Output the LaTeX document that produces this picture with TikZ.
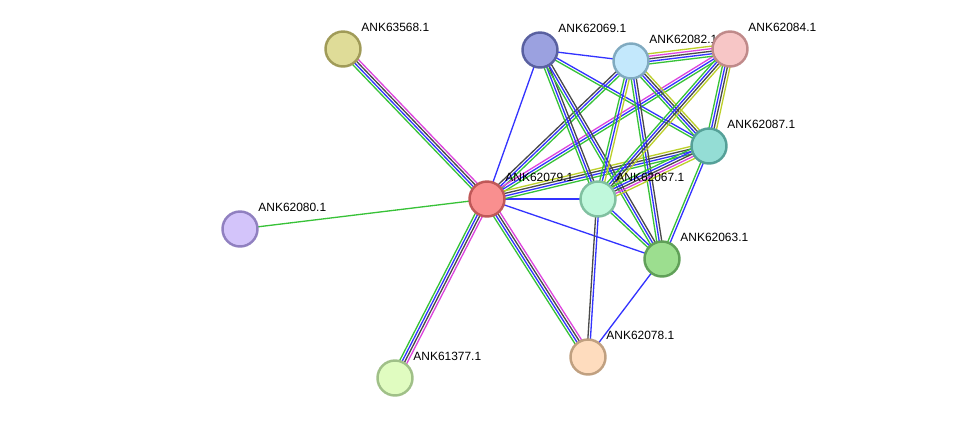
\documentclass[tikz,border=0pt]{standalone}
\usepackage{fontspec}
\setmainfont{Liberation Sans}
\usetikzlibrary{calc, backgrounds, positioning}

\definecolor{sgreen}{HTML}{38C238}
\definecolor{sblue}{HTML}{3333FF}
\definecolor{sblack}{HTML}{4A4A4A}
\definecolor{smagenta}{HTML}{DD44DD}
\definecolor{syellow}{HTML}{BCCF2A}

% parallel evidence lines between two proteins
\newcommand{\link}[3]{%
  \foreach \c [count=\i] in {#3} {\xdef\nlines{\i}}%
  \foreach \c [count=\i] in {#3} {%
    \pgfmathsetmacro{\off}{(\i-(\nlines+1)/2)*1.45}%
    \draw[edge, color=\c] ($(#1.center)!\off pt!90:(#2.center)$) -- ($(#2.center)!\off pt!-90:(#1.center)$);
  }}

\begin{document}
\begin{tikzpicture}[x=0.02cm, y=-0.02cm,
    prot/.style={circle, draw, line width=1.4pt, minimum size=0.7cm, inner sep=0pt},
    lbl/.style={font=\fontsize{6.8pt}{8pt}\selectfont, inner sep=0.5pt, xshift=0.08cm, yshift=0.06cm},
    edge/.style={line width=0.75pt}]
    \useasboundingbox (0,0) rectangle (975,424);

    % Proteine
    \node[prot, fill={rgb,255:red,223;green,220;blue,152}, draw={rgb,255:red,160;green,155;blue,88},
          label={[lbl]45:ANK63568.1}] (p63568) at (343,49) {};
    \node[prot, fill={rgb,255:red,155;green,161;blue,224}, draw={rgb,255:red,89;green,96;blue,160},
          label={[lbl]45:ANK62069.1}] (p62069) at (540,50) {};
    \node[prot, fill={rgb,255:red,195;green,232;blue,252}, draw={rgb,255:red,128;green,170;blue,192},
          label={[lbl]45:ANK62082.1}] (p62082) at (631,61) {};
    \node[prot, fill={rgb,255:red,247;green,198;blue,198}, draw={rgb,255:red,192;green,138;blue,138},
          label={[lbl]45:ANK62084.1}] (p62084) at (730,49) {};
    \node[prot, fill={rgb,255:red,148;green,221;blue,213}, draw={rgb,255:red,85;green,160;blue,152},
          label={[lbl]45:ANK62087.1}] (p62087) at (709,146) {};
    \node[prot, fill={rgb,255:red,249;green,143;blue,143}, draw={rgb,255:red,192;green,88;blue,88},
          label={[lbl]45:ANK62079.1}] (p62079) at (487,199) {};
    \node[prot, fill={rgb,255:red,192;green,248;blue,220}, draw={rgb,255:red,128;green,192;blue,160},
          label={[lbl]45:ANK62067.1}] (p62067) at (598,199) {};
    \node[prot, fill={rgb,255:red,211;green,196;blue,250}, draw={rgb,255:red,144;green,128;blue,192},
          label={[lbl]45:ANK62080.1}] (p62080) at (240,229) {};
    \node[prot, fill={rgb,255:red,156;green,222;blue,143}, draw={rgb,255:red,96;green,160;blue,88},
          label={[lbl]45:ANK62063.1}] (p62063) at (662,259) {};
    \node[prot, fill={rgb,255:red,254;green,220;blue,190}, draw={rgb,255:red,192;green,160;blue,128},
          label={[lbl]45:ANK62078.1}] (p62078) at (588,357) {};
    \node[prot, fill={rgb,255:red,224;green,252;blue,192}, draw={rgb,255:red,160;green,192;blue,136},
          label={[lbl]45:ANK61377.1}] (p61377) at (395,378) {};

    % Verbindungen
    \begin{scope}[on background layer]
        \link{p62079}{p63568}{smagenta,sblack,sblue,sgreen}
        \link{p62079}{p61377}{sgreen,sblue,sblack,smagenta}
        \link{p62079}{p62078}{sgreen,sblue,sblack,smagenta}
        \link{p62079}{p62080}{sgreen}
        \link{p62079}{p62069}{sblue}
        \link{p62079}{p62067}{sblue}
        \link{p62079}{p62063}{sblue}
        \link{p62079}{p62082}{sgreen,sblue,sblack}
        \link{p62079}{p62084}{sgreen,sblue,smagenta}
        \link{p62079}{p62087}{sgreen,sblue,sblack,syellow}
        \link{p62069}{p62082}{sblue}
        \link{p62069}{p62087}{sgreen,sblue}
        \link{p62069}{p62067}{sgreen,sblue,sblack}
        \link{p62069}{p62063}{sgreen,sblue,sblack}
        \link{p62082}{p62084}{sgreen,sblue,sblack,smagenta,syellow}
        \link{p62082}{p62087}{sgreen,sblue,sblack,syellow}
        \link{p62082}{p62067}{sgreen,sblue,syellow}
        \link{p62082}{p62063}{sgreen,sblue,sblack}
        \link{p62084}{p62087}{sgreen,sblue,sblack,syellow}
        \link{p62084}{p62067}{sgreen,sblue,sblack,syellow}
        \link{p62087}{p62067}{sgreen,sblue,sblack,smagenta,syellow}
        \link{p62087}{p62063}{sgreen,sblue}
        \link{p62067}{p62063}{sgreen,sblue}
        \link{p62067}{p62078}{sblack,sblue}
        \link{p62063}{p62078}{sblue}
    \end{scope}
\end{tikzpicture}
\end{document}
